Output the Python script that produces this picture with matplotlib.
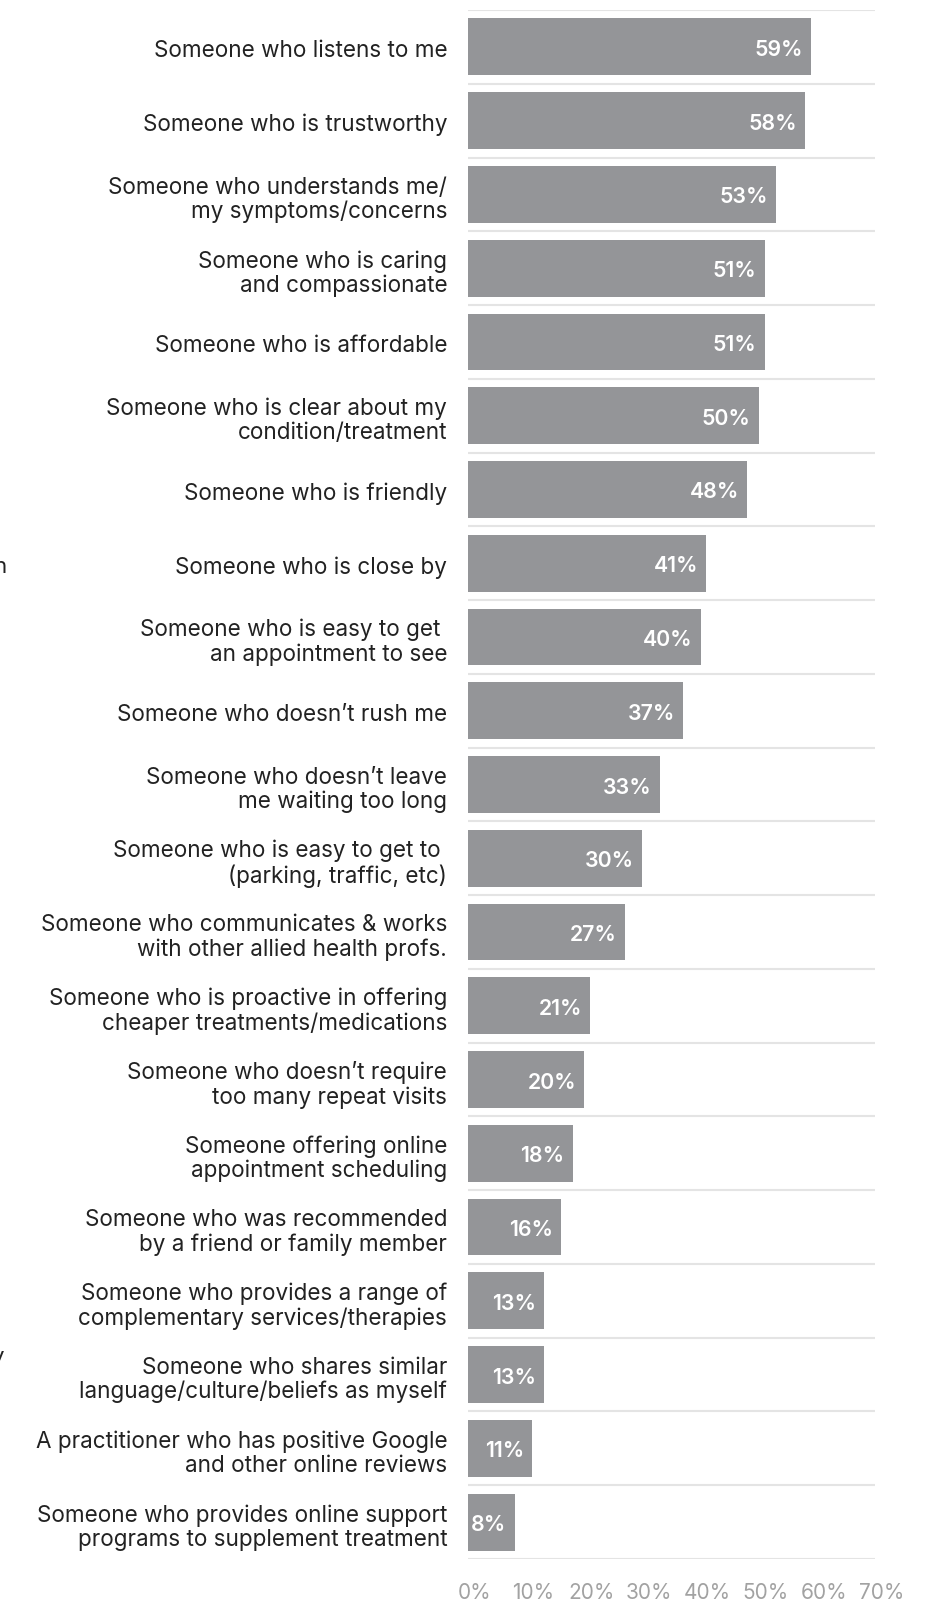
import matplotlib
matplotlib.use("Agg")
import matplotlib.pyplot as plt
from matplotlib.transforms import ScaledTranslation

categories = [
    "Someone who listens to me",
    "Someone who is trustworthy",
    "Someone who understands me/\nmy symptoms/concerns",
    "Someone who is caring\nand compassionate",
    "Someone who is affordable",
    "Someone who is clear about my\ncondition/treatment",
    "Someone who is friendly",
    "Someone who is close by",
    "Someone who is easy to get \nan appointment to see",
    "Someone who doesn\u2019t rush me",
    "Someone who doesn\u2019t leave\nme waiting too long",
    "Someone who is easy to get to \n(parking, traffic, etc)",
    "Someone who communicates & works\nwith other allied health profs.",
    "Someone who is proactive in offering\ncheaper treatments/medications",
    "Someone who doesn\u2019t require\ntoo many repeat visits",
    "Someone offering online\nappointment scheduling",
    "Someone who was recommended\nby a friend or family member",
    "Someone who provides a range of\ncomplementary services/therapies",
    "Someone who shares similar\nlanguage/culture/beliefs as myself",
    "A practitioner who has positive Google\nand other online reviews",
    "Someone who provides online support\nprograms to supplement treatment",
]
values = [59, 58, 53, 51, 51, 50, 48, 41, 40, 37, 33, 30, 27, 21, 20, 18, 16, 13, 13, 11, 8]
x_ticks = [0, 10, 20, 30, 40, 50, 60, 70]

plt.rcParams["font.family"] = ["Inter", "DejaVu Sans"]

W, H = 941, 1602
fig = plt.figure(figsize=(W / 100, H / 100), dpi=100)
ax_left, ax_right = 468, 875
ax_top, ax_bottom = 10, 1559
ax = fig.add_axes([ax_left / W, 1 - ax_bottom / H, (ax_right - ax_left) / W, (ax_bottom - ax_top) / H])

n = len(categories)
pos = list(range(n))
bar_color = "#949598"
ax.barh(pos, values, height=0.77, color=bar_color, zorder=2)
ax.set_xlim(0, 70)
ax.set_ylim(n - 0.5, -0.5)

# separators between rows
for b in [i - 0.5 for i in range(n + 1)]:
    ax.axhline(b, color="#e4e4e4", lw=1.5, zorder=1)

for s in ax.spines.values():
    s.set_visible(False)

# category labels, right-aligned to the left of the bars
ax.set_yticks(pos)
ax.set_yticklabels(categories, fontsize=16.2, color="#222222", linespacing=1.12)
ax.tick_params(axis="y", length=0, pad=15)
for lab in ax.get_yticklabels():
    lab.set_multialignment("right")
    lab.set_transform(lab.get_transform() + ScaledTranslation(0, -2 / 100, fig.dpi_scale_trans))

# value labels inside the bar ends
for p, v in zip(pos, values):
    ax.text(v, p, f"{v}%", ha="right", va="center", color="white", fontsize=15.3,
            fontweight="semibold",
            transform=ax.transData + ScaledTranslation(-8 / 100, -3 / 100, fig.dpi_scale_trans))

ax.set_xticks(x_ticks)
ax.set_xticklabels([f"{t}%" for t in x_ticks], fontsize=15, color="#a2a2a2", fontweight="normal")
ax.tick_params(axis="x", length=0, pad=17)
for lab in ax.get_xticklabels():
    lab.set_transform(lab.get_transform() + ScaledTranslation(7 / 100, 0, fig.dpi_scale_trans))

# clipped fragments of neighbouring text at the left edge
fig.text(-7 / W, 1 - 567 / H, "n", fontsize=16, color="#222222", ha="left", va="center")
fig.text(-9 / W, 1 - 1357 / H, "y", fontsize=16, color="#222222", ha="left", va="center")

fig.savefig("out.png", dpi=100, facecolor="white")
